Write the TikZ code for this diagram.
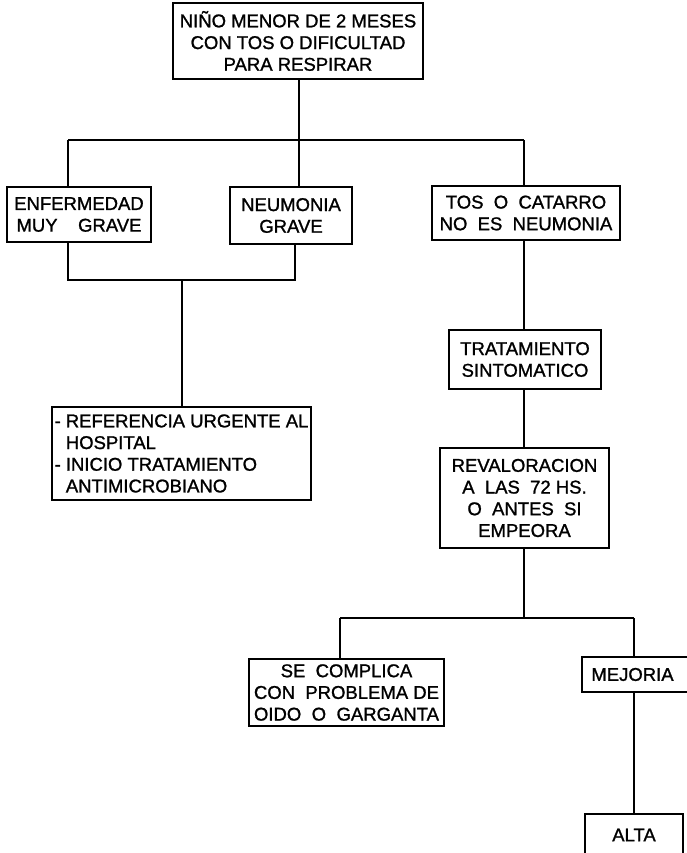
\documentclass[tikz,border=0pt]{standalone}
\usepackage{fontspec}
\setmainfont{Liberation Sans}
\newfontfamily\medfont{Liberation Sans}[FakeBold=1.2]
\newcommand\boxfont{\medfont\fontsize{18.5}{21.7}\selectfont}
\tikzset{
  box/.style={draw, line width=1.4pt, inner sep=0pt, font=\boxfont, align=center},
  conn/.style={line width=1.3pt}
}
\begin{document}
\begin{tikzpicture}[x=1pt,y=-1pt]
\useasboundingbox (0,0) rectangle (687,853);
\clip (0,0) rectangle (687,853);
\fill[white] (0,0) rectangle (687,853);

\node[box, minimum width=250, minimum height=76] (top) at (298,41)
  {NIÑO MENOR DE 2 MESES\\CON TOS O DIFICULTAD\\PARA RESPIRAR};
\node[box, minimum width=144, minimum height=55] (enf) at (79,214.5)
  {ENFERMEDAD\\\makebox[125pt]{MUY\hfill GRAVE}};
\node[box, minimum width=122, minimum height=57] (neu) at (291,215.5)
  {NEUMONIA\\GRAVE};
\node[box, minimum width=188, minimum height=54] (tos) at (526,213)
  {TOS\ \ O\ \ CATARRO\\NO\ \ ES\ \ NEUMONIA};
\node[box, minimum width=259, minimum height=93, align=left] (ref) at (181.5,453.5)
  {- REFERENCIA URGENTE AL\\\hphantom{- }HOSPITAL\\- INICIO TRATAMIENTO\\\hphantom{- }ANTIMICROBIANO};
\node[box, minimum width=152, minimum height=59] (trat) at (525,359.5)
  {TRATAMIENTO\\SINTOMATICO};
\node[box, minimum width=169, minimum height=100] (rev) at (524.5,498)
  {REVALORACION\\A\ \ LAS\ \ 72 HS.\\O\ \ ANTES\ \ SI\\EMPEORA};
\node[box, minimum width=195, minimum height=67] (sec) at (346.5,692.5)
  {SE\ \ COMPLICA\\CON\ \ PROBLEMA DE\\\makebox[185pt]{OIDO\hfill O\hfill GARGANTA}};
\node[box, minimum width=106, minimum height=35] (mej) at (635,674.5)
  {\hspace*{-5pt}MEJORIA};
\node[box, minimum width=98, minimum height=42] (alta) at (634,835)
  {ALTA};

% junction coordinates
\coordinate (h1L) at (68,140);
\coordinate (h1M) at (299,140);
\coordinate (h1R) at (524,140);
\coordinate (b1L) at (68,280);
\coordinate (b1M) at (182,280);
\coordinate (b1R) at (295,280);
\coordinate (h2L) at (340,618);
\coordinate (h2M) at (524,618);
\coordinate (h2R) at (634,618);

\draw[conn] (top.south -| h1M) -- (h1M);
\draw[conn] (h1L) -- (h1R);
\draw[conn] (h1L) -- (h1L |- enf.north);
\draw[conn] (h1M) -- (h1M |- neu.north);
\draw[conn] (h1R) -- (h1R |- tos.north);

\draw[conn] (enf.south -| b1L) -- (b1L) -- (b1R) -- (b1R |- neu.south);
\draw[conn] (b1M) -- (b1M |- ref.north);

\draw[conn] (tos.south -| h1R) -- (trat.north -| h1R);
\draw[conn] (trat.south -| h1R) -- (rev.north -| h1R);
\draw[conn] (rev.south -| h2M) -- (h2M);
\draw[conn] (h2L) -- (h2R);
\draw[conn] (h2L) -- (h2L |- sec.north);
\draw[conn] (h2R) -- (h2R |- mej.north);
\draw[conn] (mej.south -| h2R) -- (alta.north -| h2R);
\end{tikzpicture}
\end{document}
